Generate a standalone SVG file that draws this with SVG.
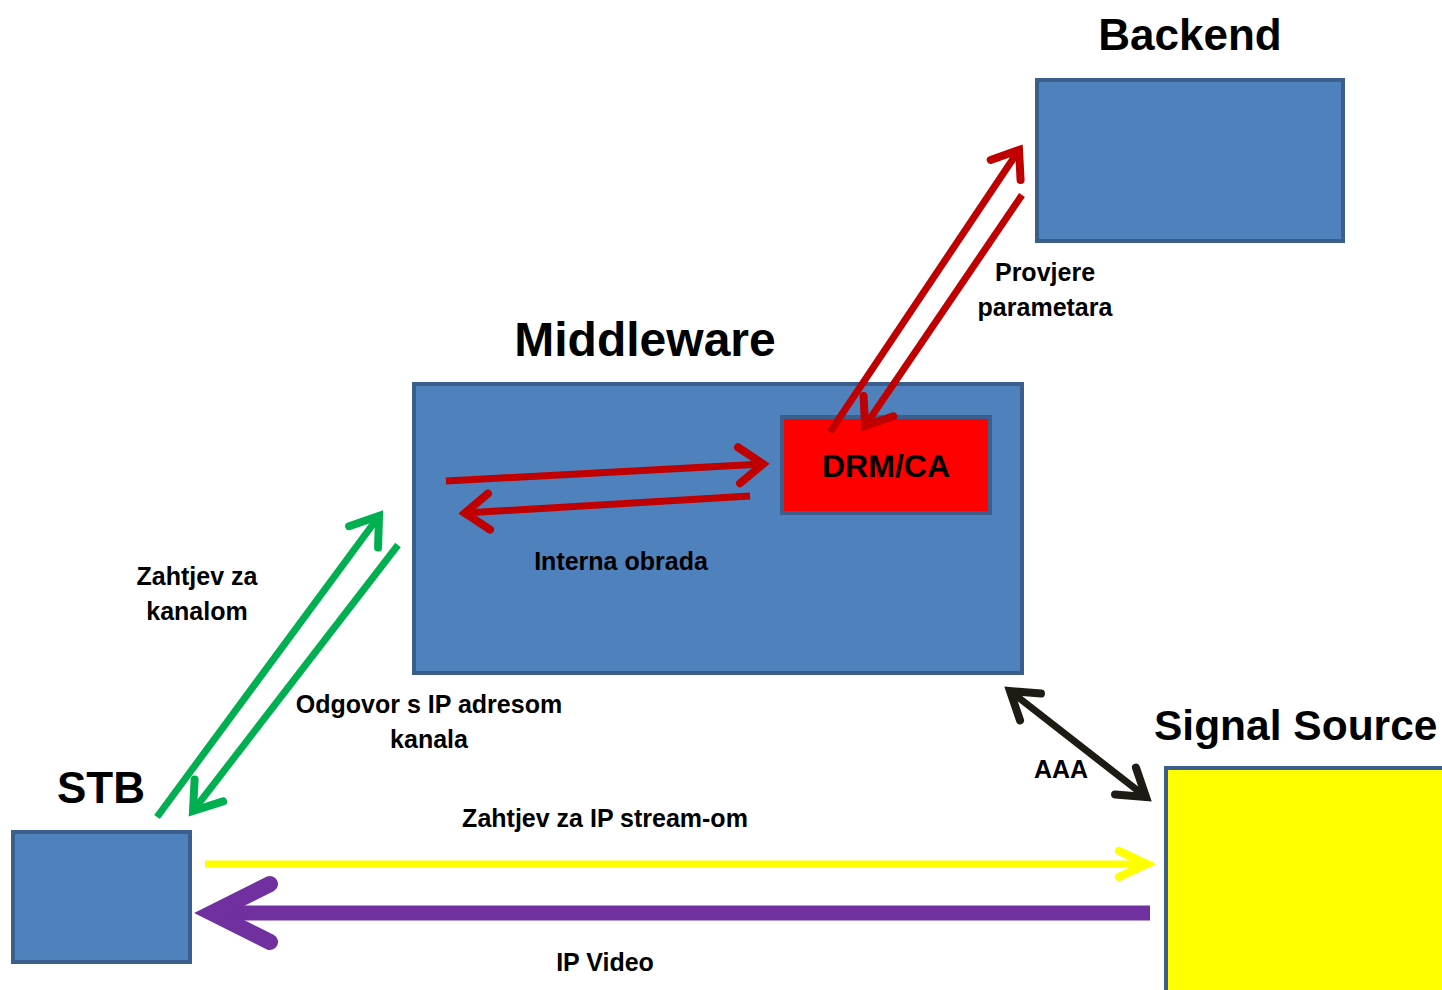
<svg xmlns="http://www.w3.org/2000/svg" width="1442" height="990" viewBox="0 0 1442 990">
<style>
.box{fill:#4F81BD;stroke:#3B5E8C;stroke-width:4}
.title{font-family:"Liberation Sans",Arial,sans-serif;font-weight:bold;fill:#000}
.lbl{font-family:"Liberation Sans",Arial,sans-serif;font-weight:bold;font-size:25px;fill:#000;text-anchor:middle}
.ln{fill:none;stroke-linecap:butt}
</style>
<defs>
<marker id="mRed" markerUnits="userSpaceOnUse" markerWidth="80" markerHeight="80" refX="0" refY="0" orient="auto" overflow="visible" viewBox="-40 -40 80 80">
<path d="M-24,-18 L0,0 L-24,18" fill="none" stroke="#C00000" stroke-width="8" stroke-linecap="round" stroke-linejoin="miter"/>
</marker>
<marker id="mGreen" markerUnits="userSpaceOnUse" markerWidth="80" markerHeight="80" refX="0" refY="0" orient="auto" overflow="visible" viewBox="-40 -40 80 80">
<path d="M-26,-18 L0,0 L-26,18" fill="none" stroke="#00B050" stroke-width="8" stroke-linecap="round" stroke-linejoin="miter"/>
</marker>
<marker id="mBlack" markerUnits="userSpaceOnUse" markerWidth="80" markerHeight="80" refX="0" refY="0" orient="auto-start-reverse" overflow="visible" viewBox="-40 -40 80 80">
<path d="M-26,-17 L0,0 L-26,17" fill="none" stroke="#1E1B14" stroke-width="8" stroke-linecap="round" stroke-linejoin="miter"/>
</marker>
<marker id="mYellow" markerUnits="userSpaceOnUse" markerWidth="80" markerHeight="80" refX="0" refY="0" orient="auto" overflow="visible" viewBox="-40 -40 80 80">
<path d="M-28,-13 L0,0 L-28,13" fill="none" stroke="#FFFF00" stroke-width="8" stroke-linecap="round" stroke-linejoin="miter"/>
</marker>
<marker id="mPurple" markerUnits="userSpaceOnUse" markerWidth="160" markerHeight="160" refX="0" refY="0" orient="auto" overflow="visible" viewBox="-80 -80 160 160">
<path d="M-58,-29 L0,0 L-58,29" fill="none" stroke="#7030A0" stroke-width="16" stroke-linecap="round" stroke-linejoin="miter"/>
</marker>
</defs>
<rect width="1442" height="990" fill="#FFFFFF"/>

<g id="backend">
<rect class="box" x="1037" y="80" width="306" height="161"/>
<text class="title" x="1190" y="50" font-size="44" text-anchor="middle">Backend</text>
</g>

<g id="middleware">
<rect class="box" x="414" y="384" width="608" height="289"/>
<text class="title" x="645" y="356" font-size="48" text-anchor="middle">Middleware</text>
</g>

<g id="drmca">
<rect x="782" y="417" width="208" height="96" fill="#FF0000" stroke="#3B5E8C" stroke-width="4"/>
<text class="title" x="886" y="477" font-size="32" text-anchor="middle">DRM/CA</text>
</g>

<g id="stb">
<rect class="box" x="13" y="832" width="177" height="130"/>
<text class="title" x="101" y="803" font-size="44" text-anchor="middle">STB</text>
</g>

<g id="signal-source">
<rect x="1166" y="768" width="290" height="240" fill="#FFFF00" stroke="#3B5E8C" stroke-width="4"/>
<text class="title" x="1154" y="740" font-size="42.5">Signal Source</text>
</g>

<g id="connectors">
<line class="ln" x1="830" y1="432" x2="1019" y2="150" stroke="#C00000" stroke-width="7" marker-end="url(#mRed)"/>
<line class="ln" x1="1022" y1="195" x2="865" y2="426" stroke="#C00000" stroke-width="7" marker-end="url(#mRed)"/>
<line class="ln" x1="446" y1="481" x2="763" y2="464" stroke="#C00000" stroke-width="7" marker-end="url(#mRed)"/>
<line class="ln" x1="750" y1="496" x2="465" y2="513" stroke="#C00000" stroke-width="7" marker-end="url(#mRed)"/>
<line class="ln" x1="157" y1="817" x2="379" y2="516" stroke="#00B050" stroke-width="7" marker-end="url(#mGreen)"/>
<line class="ln" x1="398" y1="545" x2="193" y2="811" stroke="#00B050" stroke-width="7" marker-end="url(#mGreen)"/>
<line class="ln" x1="1010" y1="691" x2="1146" y2="797" stroke="#1E1B14" stroke-width="7" marker-start="url(#mBlack)" marker-end="url(#mBlack)"/>
<line class="ln" x1="205" y1="864" x2="1147" y2="864" stroke="#FFFF00" stroke-width="7" marker-end="url(#mYellow)"/>
<line class="ln" x1="1150" y1="913" x2="212" y2="913" stroke="#7030A0" stroke-width="15" marker-end="url(#mPurple)"/>
</g>

<g id="labels">
<text class="lbl" x="1045" y="281">Provjere</text>
<text class="lbl" x="1045" y="316">parametara</text>
<text class="lbl" x="621" y="570">Interna obrada</text>
<text class="lbl" x="197" y="585">Zahtjev za</text>
<text class="lbl" x="197" y="620">kanalom</text>
<text class="lbl" x="429" y="713">Odgovor s IP adresom</text>
<text class="lbl" x="429" y="748">kanala</text>
<text class="lbl" x="1061" y="778">AAA</text>
<text class="lbl" x="605" y="827">Zahtjev za IP stream-om</text>
<text class="lbl" x="605" y="971">IP Video</text>
</g>
</svg>
